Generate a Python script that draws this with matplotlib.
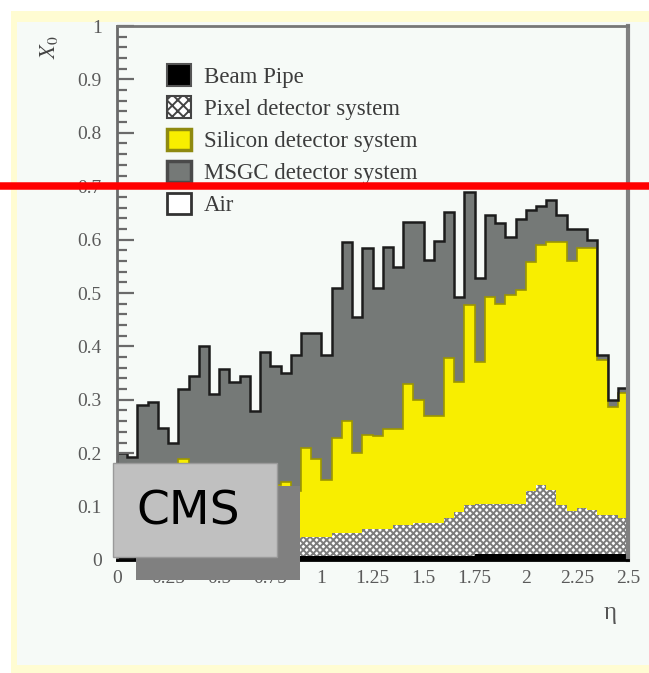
import numpy as np
import matplotlib.pyplot as plt
from matplotlib.patches import Patch, Rectangle
from matplotlib.lines import Line2D

# material budget in units of X0 vs eta, 50 bins of 0.05
eta_edges = np.linspace(0.0, 2.5, 51)

# top of each stacked layer (cumulative x/X0)
total_x0 = [0.200, 0.193, 0.290, 0.295, 0.247, 0.220, 0.320, 0.345, 0.400, 0.310,
            0.357, 0.333, 0.345, 0.279, 0.390, 0.364, 0.351, 0.384, 0.425, 0.425,
            0.384, 0.510, 0.596, 0.455, 0.584, 0.510, 0.586, 0.549, 0.633, 0.633,
            0.562, 0.597, 0.652, 0.493, 0.690, 0.528, 0.646, 0.631, 0.605, 0.638,
            0.655, 0.662, 0.674, 0.646, 0.620, 0.620, 0.600, 0.384, 0.300, 0.322]
silicon_x0 = [0.060, 0.070, 0.090, 0.100, 0.110, 0.120, 0.190, 0.180, 0.150, 0.130,
              0.140, 0.130, 0.140, 0.120, 0.150, 0.140, 0.146, 0.130, 0.210, 0.190,
              0.150, 0.228, 0.260, 0.200, 0.234, 0.232, 0.245, 0.245, 0.330, 0.300,
              0.270, 0.270, 0.378, 0.333, 0.477, 0.370, 0.493, 0.479, 0.496, 0.506,
              0.558, 0.590, 0.596, 0.596, 0.560, 0.584, 0.584, 0.374, 0.287, 0.312]
pixel_x0 = [0.030, 0.030, 0.032, 0.032, 0.033, 0.034, 0.035, 0.035, 0.036, 0.037,
            0.037, 0.038, 0.038, 0.039, 0.040, 0.040, 0.041, 0.042, 0.043, 0.043,
            0.043, 0.050, 0.050, 0.050, 0.058, 0.058, 0.058, 0.065, 0.065, 0.070,
            0.070, 0.070, 0.078, 0.090, 0.103, 0.105, 0.105, 0.105, 0.105, 0.105,
            0.130, 0.140, 0.132, 0.103, 0.092, 0.097, 0.094, 0.084, 0.084, 0.078]
beampipe_x0 = [0.008] * 35 + [0.012] * 15

x_ticks = [0, 0.25, 0.5, 0.75, 1, 1.25, 1.5, 1.75, 2, 2.25, 2.5]
x_ticklabels = ['0', '0.25', '0.5', '0.75', '1', '1.25', '1.5', '1.75', '2', '2.25', '2.5']
y_ticks = [0, 0.1, 0.2, 0.3, 0.4, 0.5, 0.6, 0.7, 0.8, 0.9, 1]
y_ticklabels = ['0', '0.1', '0.2', '0.3', '0.4', '0.5', '0.6', '0.7', '0.8', '0.9', '1']
legend_labels = ['Beam Pipe', 'Pixel detector system', 'Silicon detector system',
                 'MSGC detector system', 'Air']

W, H = 649, 673
GRAY = '#757977'
YELLOW = '#f8ee00'
PANEL = '#f6faf7'

plt.rcParams['hatch.linewidth'] = 1.4
plt.rcParams['mathtext.fontset'] = 'stix'

fig = plt.figure(figsize=(W / 100, H / 100), dpi=100)
fig.patch.set_facecolor('white')

# pale yellow frame and light panel behind the plot
fig.add_artist(Rectangle((11 / W, 0), 1.1, 1 - 11 / H, transform=fig.transFigure,
                         facecolor='#fffcd2', edgecolor='none', zorder=-2))
fig.add_artist(Rectangle((17 / W, 1 - 665 / H), 1.1, (665 - 22) / H, transform=fig.transFigure,
                         facecolor=PANEL, edgecolor='none', zorder=-1))

ax = fig.add_axes([117 / W, (H - 560) / H, 511 / W, 534 / H])
ax.set_facecolor(PANEL)

ax.stairs(total_x0, eta_edges, baseline=0, fill=True, facecolor=GRAY, edgecolor='none')
ax.stairs(silicon_x0, eta_edges, baseline=0, fill=True, facecolor=YELLOW,
          edgecolor='#9c9600', linewidth=1.2)
ax.stairs(pixel_x0, eta_edges, baseline=0, fill=True, facecolor='white',
          edgecolor='#7c7c7c', hatch='xxxxx', linewidth=0)
ax.stairs(beampipe_x0, eta_edges, baseline=0, fill=True, color='black')
ax.stairs(total_x0, eta_edges, baseline=0, fill=False, color='#1c1c1c', linewidth=1.8)

ax.set_xlim(0, 2.5)
ax.set_ylim(0, 1)
ax.set_xticks(x_ticks)
ax.set_xticklabels(x_ticklabels)
ax.set_yticks(y_ticks)
ax.set_yticklabels(y_ticklabels)
ax.set_yticks(np.arange(0, 1.0, 0.02), minor=True)

for lab in ax.get_xticklabels() + ax.get_yticklabels():
    lab.set_fontfamily('Liberation Serif')
    lab.set_fontsize(14)
    lab.set_color('#5a5a5a')

ax.tick_params(axis='y', which='major', direction='in', length=12, width=1.6,
               color='#6a6a6a', pad=11)
ax.tick_params(axis='y', which='minor', direction='in', length=7, width=1.6, color='#6a6a6a')
ax.tick_params(axis='x', which='both', length=0, pad=7)

ax.spines['left'].set_color('#6a6a6a')
ax.spines['left'].set_linewidth(2)
ax.spines['top'].set_color('#777777')
ax.spines['top'].set_linewidth(2)
ax.spines['right'].set_color('#808080')
ax.spines['right'].set_linewidth(3)
ax.spines['bottom'].set_color('black')
ax.spines['bottom'].set_linewidth(2)

handles = [
    Patch(facecolor='black', edgecolor='#555555', linewidth=1.5),
    Patch(facecolor='white', edgecolor='#444444', hatch='xxx', linewidth=1.5),
    Patch(facecolor=YELLOW, edgecolor='#8f8a10', linewidth=2.5),
    Patch(facecolor=GRAY, edgecolor='#4a4a4a', linewidth=2.5),
    Patch(facecolor='white', edgecolor='#333333', linewidth=2),
]
ax.legend(handles, legend_labels, loc='upper left', bbox_to_anchor=(0.098, 0.928),
          frameon=False, borderpad=0, borderaxespad=0, handlelength=1.05,
          handleheight=1.05, handletextpad=0.55, labelspacing=0.375,
          prop={'family': 'Liberation Serif', 'size': 16.5}, labelcolor='#3c3c3c')

# axis titles
fig.text(49 / W, 1 - 47 / H, r'$X_0$', rotation=90, ha='center', va='center',
         fontsize=16, color='#444444')
fig.text(610 / W, 1 - 613 / H, 'η', ha='center', va='center',
         family='Liberation Serif', fontsize=18, color='#555555')

# CMS label box with drop shadow
fig.add_artist(Rectangle((136 / W, 1 - 580 / H), 164 / W, 94 / H, transform=fig.transFigure,
                         facecolor='#808080', edgecolor='none', zorder=5))
fig.add_artist(Rectangle((113 / W, 1 - 557 / H), 164 / W, 94 / H, transform=fig.transFigure,
                         facecolor='#c0c0c0', edgecolor='#9a9a9a', linewidth=1, zorder=6))
fig.text(188 / W, 1 - 512 / H, 'CMS', ha='center', va='center', fontsize=34,
         family='DejaVu Sans', color='black', zorder=7)

# red marker line across the figure
fig.add_artist(Line2D([3 / W, 1], [1 - 185.5 / H] * 2, transform=fig.transFigure,
                      color='#ff0000', linewidth=5.4, zorder=10))

fig.savefig('out.png', dpi=100)
